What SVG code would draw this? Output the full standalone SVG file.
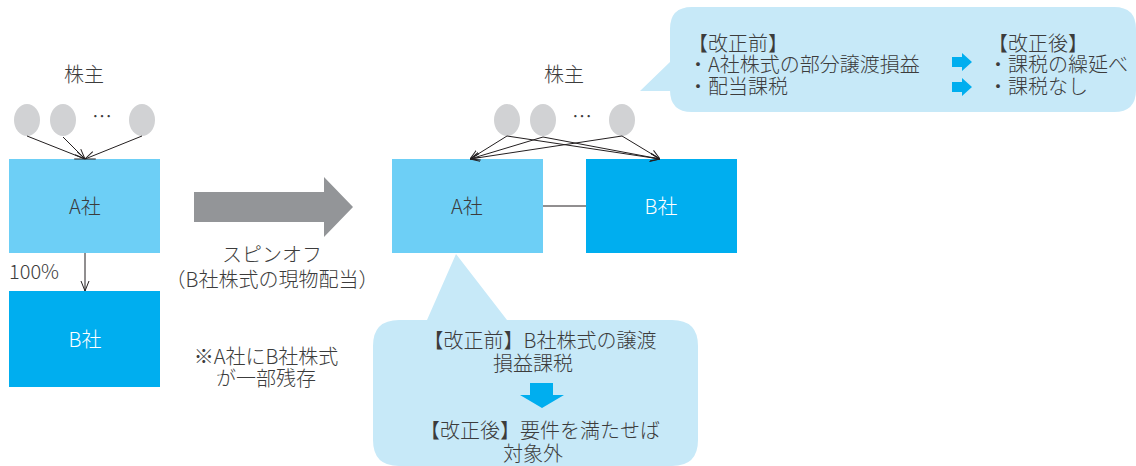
<svg xmlns="http://www.w3.org/2000/svg" width="1136" height="466" viewBox="0 0 1136 466">
<style>
text{font-family:"Noto Sans CJK JP","Noto Sans",sans-serif;font-size:20px;font-weight:300;fill:#3c3c3c}
.c{text-anchor:middle}
.w{fill:#ffffff}
.dots{font-size:20px;letter-spacing:0}
.sh{fill:#d1d2d4}
.boxA{fill:#6dcff6}
.boxB{fill:#00aeef}
.ln{stroke:#231f20;stroke-width:1;fill:none}
.bub{fill:#c7e9f8}
.ba{fill:#00aeef}
</style>
<defs>
<marker id="ah" viewBox="0 0 10 10" refX="10" refY="5" markerWidth="10" markerHeight="10" markerUnits="userSpaceOnUse" orient="auto">
<path d="M0,1 L10,5 L0,9" fill="none" stroke="#231f20" stroke-width="1"/>
</marker>
</defs>
<rect width="1136" height="466" fill="#ffffff"/>

<!-- left side -->
<g id="shareholders-left">
<text class="c" x="84" y="82">株主</text>
<ellipse class="sh" cx="27" cy="120" rx="13" ry="16"/>
<ellipse class="sh" cx="63" cy="120" rx="13" ry="16"/>
<text class="c dots" x="102" y="124">…</text>
<ellipse class="sh" cx="142" cy="120" rx="13" ry="16"/>
</g>
<g id="companyA-left">
<rect class="boxA" x="9" y="159" width="151" height="94"/>
<text class="c" x="85" y="214">A社</text>
</g>
<g id="companyB-left">
<rect class="boxB" x="9" y="291" width="151" height="96"/>
<text class="c w" x="85" y="347">B社</text>
</g>
<text x="9" y="279">100%</text>

<g id="spinoff-arrow">
<polygon points="194,192 324,192 324,177 353,207 324,237 324,222 194,222" fill="#939598"/>
<text class="c" x="272" y="262">スピンオフ</text>
<text class="c" x="272" y="287">（B社株式の現物配当）</text>
</g>
<g id="note">
<text class="c" x="266" y="364">※A社にB社株式</text>
<text class="c" x="266" y="386">が一部残存</text>
</g>

<!-- right side -->
<g id="shareholders-right">
<text class="c" x="564" y="82">株主</text>
<ellipse class="sh" cx="507" cy="120" rx="13" ry="16"/>
<ellipse class="sh" cx="543" cy="120" rx="13" ry="16"/>
<text class="c dots" x="582" y="124">…</text>
<ellipse class="sh" cx="622" cy="120" rx="13" ry="16"/>
</g>
<g id="companyA-right">
<rect class="boxA" x="392" y="159" width="151" height="94"/>
<text class="c" x="467" y="214">A社</text>
</g>
<g id="companyB-right">
<rect class="boxB" x="586" y="159" width="151" height="94"/>
<text class="c w" x="661" y="214">B社</text>
</g>

<g id="connectors">
<line class="ln" x1="27" y1="136" x2="85" y2="159" marker-end="url(#ah)"/>
<line class="ln" x1="63" y1="137" x2="85" y2="159" marker-end="url(#ah)"/>
<line class="ln" x1="142" y1="136" x2="85" y2="159" marker-end="url(#ah)"/>
<line class="ln" x1="85" y1="253" x2="85" y2="291" marker-end="url(#ah)"/>
<line class="ln" x1="507" y1="136" x2="470" y2="159" marker-end="url(#ah)"/>
<line class="ln" x1="543" y1="137" x2="470" y2="159" marker-end="url(#ah)"/>
<line class="ln" x1="622" y1="136" x2="470" y2="159" marker-end="url(#ah)"/>
<line class="ln" x1="507" y1="136" x2="660" y2="159" marker-end="url(#ah)"/>
<line class="ln" x1="543" y1="137" x2="660" y2="159" marker-end="url(#ah)"/>
<line class="ln" x1="622" y1="136" x2="660" y2="159" marker-end="url(#ah)"/>
<line class="ln" x1="543" y1="206" x2="586" y2="206"/>
</g>

<!-- top-right callout -->
<g id="callout-top">
<path class="bub" d="M692,7 H1114 Q1136,7 1136,29 V90 Q1136,112 1114,112 H692 Q670,112 670,90 V91 H640 L670,62 V29 Q670,7 692,7 Z"/>
<text x="688" y="51">【改正前】</text>
<text x="688" y="72">・A社株式の部分譲渡損益</text>
<text x="688" y="94">・配当課税</text>
<text x="988" y="51">【改正後】</text>
<text x="988" y="72">・課税の繰延べ</text>
<text x="988" y="94">・課税なし</text>
<polygon class="ba" points="952,57 962,57 962,53 972,62 962,71 962,67 952,67"/>
<polygon class="ba" points="952,82 962,82 962,78 972,87 962,96 962,92 952,92"/>
</g>

<!-- bottom callout -->
<g id="callout-bottom">
<path class="bub" d="M399,320 H427 L456,254 L507,320 H672 Q698,320 698,346 V440 Q698,466 672,466 H399 Q373,466 373,440 V346 Q373,320 399,320 Z"/>
<text class="c" x="540" y="348">【改正前】B社株式の譲渡</text>
<text class="c" x="533" y="371">損益課税</text>
<polygon class="ba" points="530,383 553,383 553,395 564,395 542,408 520,395 530,395"/>
<text class="c" x="540" y="438">【改正後】要件を満たせば</text>
<text class="c" x="533" y="461">対象外</text>
</g>
</svg>
